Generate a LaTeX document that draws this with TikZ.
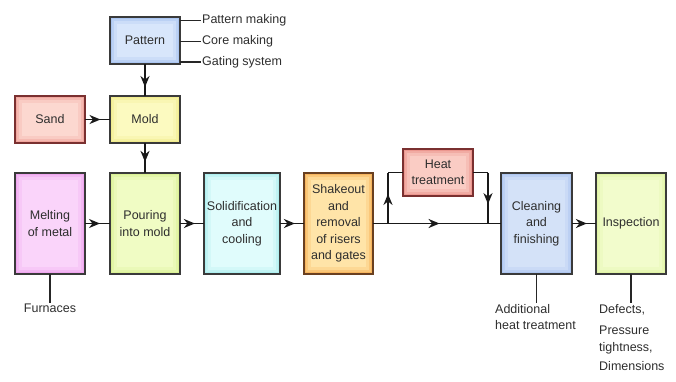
\documentclass[tikz,border=0pt]{standalone}
\usepackage{fontspec}
\setmainfont{Liberation Sans}
\usetikzlibrary{arrows.meta,decorations.markings}
\definecolor{txt}{HTML}{2E2E2E}
\definecolor{bord}{HTML}{3A3A3A}
\definecolor{bordred}{HTML}{7A3030}
\definecolor{bordorg}{HTML}{6A4020}
\definecolor{blueF}{HTML}{D8E6FB}\definecolor{blueE}{HTML}{9DBCEF}
\definecolor{redF}{HTML}{FCD8D0}\definecolor{redE}{HTML}{EE9890}
\definecolor{yelF}{HTML}{FCFAC0}\definecolor{yelE}{HTML}{EEE880}
\definecolor{magF}{HTML}{FAD4FA}\definecolor{magE}{HTML}{EC98EC}
\definecolor{limF}{HTML}{F0FCC4}\definecolor{limE}{HTML}{D4EE88}
\definecolor{cyaF}{HTML}{E0FCFC}\definecolor{cyaE}{HTML}{A0ECEC}
\definecolor{orgF}{HTML}{FFE4A8}\definecolor{orgE}{HTML}{F6A848}
\definecolor{htF}{HTML}{FACCC4}\definecolor{htE}{HTML}{E88880}
\definecolor{clF}{HTML}{D4E2F8}\definecolor{clE}{HTML}{A4BEEE}
\definecolor{inF}{HTML}{F2FCCC}\definecolor{inE}{HTML}{DCF29A}
\tikzset{
  proc/.style={draw=bord, line width=1.8pt, align=center, text=txt,
    font=\fontsize{12.5}{16.5}\selectfont, inner sep=1pt, outer sep=0pt},
  glow/.style 2 args={fill=#1, path picture={
    \draw[#2, line width=14pt, opacity=.2] (path picture bounding box.south west) rectangle (path picture bounding box.north east);
    \draw[#2, line width=8pt, opacity=.35] (path picture bounding box.south west) rectangle (path picture bounding box.north east);
    \draw[#2, line width=4pt, opacity=.55] (path picture bounding box.south west) rectangle (path picture bounding box.north east);
  }},
  small/.style={minimum width=70pt, minimum height=47pt},
  tall/.style={minimum height=101pt},
  lbl/.style={text=txt, font=\fontsize{12.5}{16.5}\selectfont, inner sep=1pt, align=left},
  conn/.style={draw=black!90, line width=1.8pt},
  thinconn/.style={draw=black!85, line width=1.3pt},
  midarrow/.style={postaction={decorate}, decoration={markings,
    mark=at position #1 with {\arrow{Stealth[length=11pt,width=9pt,inset=3.5pt]}}}}
}
\begin{document}
\begin{tikzpicture}[x=1pt,y=-1pt]
\useasboundingbox (0,0) rectangle (676,381);
% top
\node[proc, small, glow={blueF}{blueE}] (pattern) at (145,40.5) {Pattern};
\node[proc, small, glow={redF}{redE}, draw=bordred] (sand) at (50,119.5) {Sand};
\node[proc, small, glow={yelF}{yelE}] (mold) at (145,119.5) {Mold};
% main row
\node[proc, tall, minimum width=70pt, glow={magF}{magE}] (melt) at (50,223.5) {Melting\\of metal};
\node[proc, tall, minimum width=70pt, glow={limF}{limE}] (pour) at (145,223.5) {Pouring\\into mold};
\node[proc, tall, minimum width=76pt, glow={cyaF}{cyaE}] (solid) at (242,223.5) {Solidification\\and\\cooling};
\node[proc, tall, minimum width=69pt, glow={orgF}{orgE}, draw=bordorg] (shake) at (338.5,223.5) {Shakeout\\and\\removal\\of risers\\and gates};
\node[proc, small, glow={htF}{htE}, draw=bordred] (heat) at (438,172.5) {Heat\\treatment};
\node[proc, tall, minimum width=71pt, glow={clF}{clE}] (clean) at (536.5,223.5) {Cleaning\\and\\finishing};
\node[proc, tall, minimum width=70pt, glow={inF}{inE}] (insp) at (631,223.5) {Inspection};
% side labels
\node[lbl, anchor=west] (pm) at (201,20.5) {Pattern making};
\node[lbl, anchor=west] (cm) at (201,41.5) {Core making};
\node[lbl, anchor=west] (gs) at (201,62) {Gating system};
\node[lbl, anchor=north] (furn) at (50,303) {Furnaces};
\node[lbl, anchor=north west] (addl) at (494,303) {Additional\\heat treatment};
\node[lbl, anchor=north west] (defs) at (598,303) {Defects,\\[5pt]Pressure\\tightness,\\[3pt]Dimensions};
% connectors
\draw[thinconn] (pattern.east |- pm.west) -- (pm.west);
\draw[thinconn] (pattern.east |- cm.west) -- (cm.west);
\draw[thinconn] (pattern.east |- gs.west) -- (gs.west);
\draw[conn, midarrow=0.72] (pattern.south) -- (mold.north);
\draw[conn, midarrow=0.62] (sand.east) -- (mold.west);
\draw[conn, midarrow=0.63] (mold.south) -- (pour.north);
\draw[conn, midarrow=0.6] (melt.east) -- (pour.west);
\draw[conn, midarrow=0.62] (pour.east) -- (solid.west);
\draw[conn, midarrow=0.62] (solid.east) -- (shake.west);
\draw[conn, midarrow=0.52] (shake.east) -- (clean.west);
\draw[conn, midarrow=0.62] (clean.east) -- (insp.west);
\coordinate (b1) at (388,223.5);
\coordinate (b2) at (488,223.5);
\draw[conn, midarrow=0.58] (b1) -- (b1 |- heat.west);
\draw[conn] (b1 |- heat.west) -- (heat.west);
\draw[conn] (heat.east) -- (b2 |- heat.east);
\draw[conn, midarrow=0.62] (b2 |- heat.east) -- (b2);
\draw[thinconn] (melt.south) -- (furn.north);
\draw[thinconn] (clean.south) -- (clean.south |- addl.north);
\draw[thinconn] (insp.south) -- (insp.south |- defs.north);
\end{tikzpicture}
\end{document}
